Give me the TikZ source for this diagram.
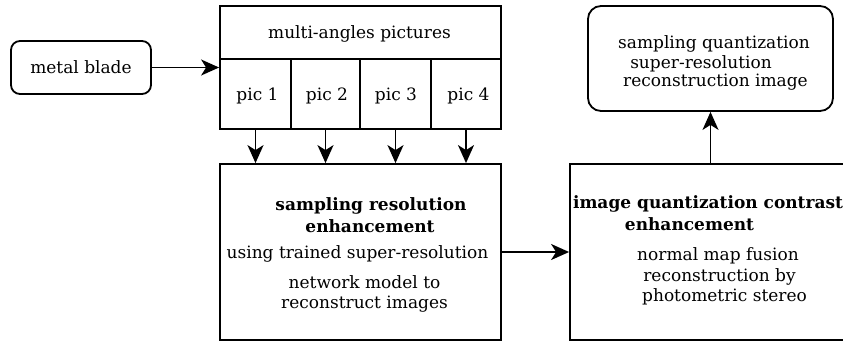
\documentclass[tikz,border=0pt]{standalone}
\usepackage{fontspec}
\setmainfont{DejaVu Serif}
\usetikzlibrary{arrows.meta}
\tikzset{
  every node/.style={font=\fontsize{17}{21}\selectfont},
  frame/.style={draw, line width=1.8pt, inner sep=0pt},
  rbox/.style={frame, rounded corners=9pt},
  lbl/.style={inner sep=0pt, anchor=base},
  arr/.style={line width=1.8pt, -{Stealth[length=18pt,width=16pt,inset=5pt]}},
}
\begin{document}
\begin{tikzpicture}[x=1pt,y=-1pt]
\useasboundingbox (0,0) rectangle (843,346);
% boxes
\node[rbox, minimum width=140pt, minimum height=53pt] (blade) at (81,67.5) {};
\node[lbl] (bladeT) at (81,73) {metal blade};
\node[frame, minimum width=281pt, minimum height=53pt] (head) at (360.5,32.5) {};
\node[lbl] (headT) at (359.5,38) {multi-angles pictures};
\node[frame, minimum width=71pt, minimum height=70pt] (p1) at (255.5,94) {};
\node[frame, minimum width=69pt, minimum height=70pt] (p2) at (325.5,94) {};
\node[frame, minimum width=71pt, minimum height=70pt] (p3) at (395.5,94) {};
\node[frame, minimum width=70pt, minimum height=70pt] (p4) at (466,94) {};
\node[lbl] (p1T) at (257.5,100) {pic 1};
\node[lbl] (p2T) at (327,100) {pic 2};
\node[lbl] (p3T) at (396,100) {pic 3};
\node[lbl] (p4T) at (468.5,100) {pic 4};
\node[frame, minimum width=281pt, minimum height=176pt] (sre) at (360.5,252) {};
\node[lbl] (sreA) at (371,210) {\bfseries sampling resolution};
\node[lbl] (sreB) at (370,232) {\bfseries enhancement};
\node[lbl] (sreC) at (357.5,258) {using trained super-resolution};
\node[lbl] (sreD) at (364.5,288) {network model to};
\node[lbl] (sreE) at (364.5,308) {reconstruct images};
\node[frame, minimum width=290pt, minimum height=176pt] (iqc) at (715,252) {};
\node[lbl] (iqcA) at (708,208) {\bfseries image quantization contrast};
\node[lbl] (iqcB) at (689.5,230) {\bfseries enhancement};
\node[lbl] (iqcC) at (718,260) {normal map fusion};
\node[lbl] (iqcD) at (719.5,281) {reconstruction by};
\node[lbl] (iqcE) at (724.5,301) {photometric stereo};
\node[rbox, rounded corners=13pt, minimum width=245pt, minimum height=105pt] (res) at (710.5,58.5) {};
\node[lbl] (resA) at (714,48) {sampling quantization};
\node[lbl] (resB) at (701,68) {super-resolution};
\node[lbl] (resC) at (715.5,86) {reconstruction image};
% connectors
\draw[arr] (blade.east) -- (blade.east -| p1.west);
\foreach \p in {p1,p2,p3,p4}{
  \draw[arr] (\p.south) -- (\p.south |- sre.north);
}
\draw[arr] (sre.east) -- (sre.east -| iqc.west);
\draw[arr] (res.south |- iqc.north) -- (res.south);
\end{tikzpicture}
\end{document}
